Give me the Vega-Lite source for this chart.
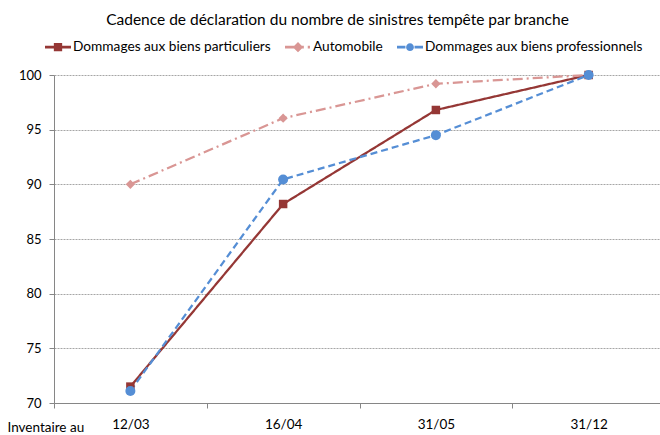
{
  "$schema": "https://vega.github.io/schema/vega-lite/v6.json",
  "autosize": {"type": "none"},
  "width": 611,
  "height": 328,
  "padding": {"left": 54, "top": 75, "right": 0, "bottom": 32},
  "background": "white",
  "config": {
    "view": {"stroke": null},
    "font": "Lato",
    "axis": {"labelFont": "Lato", "titleFont": "Lato", "labelColor": "#000", "titleColor": "#000"},
    "legend": {"labelFont": "Lato"}
  },
  "title": {
    "text": "Cadence de déclaration du nombre de sinistres tempête par branche",
    "font": "Lato", "fontSize": 15.5, "fontWeight": "normal", "color": "#000",
    "anchor": "middle", "dx": -22, "offset": 6
  },
  "data": {
    "values": [
      {"date": "12/03", "serie": "Dommages aux biens particuliers", "valeur": 71.5},
      {"date": "16/04", "serie": "Dommages aux biens particuliers", "valeur": 88.2},
      {"date": "31/05", "serie": "Dommages aux biens particuliers", "valeur": 96.8},
      {"date": "31/12", "serie": "Dommages aux biens particuliers", "valeur": 100},
      {"date": "12/03", "serie": "Automobile", "valeur": 90.0},
      {"date": "16/04", "serie": "Automobile", "valeur": 96.05},
      {"date": "31/05", "serie": "Automobile", "valeur": 99.2},
      {"date": "31/12", "serie": "Automobile", "valeur": 100},
      {"date": "12/03", "serie": "Dommages aux biens professionnels", "valeur": 71.1},
      {"date": "16/04", "serie": "Dommages aux biens professionnels", "valeur": 90.45},
      {"date": "31/05", "serie": "Dommages aux biens professionnels", "valeur": 94.5},
      {"date": "31/12", "serie": "Dommages aux biens professionnels", "valeur": 100}
    ]
  },
  "encoding": {
    "x": {
      "field": "date", "type": "ordinal", "sort": null,
      "scale": {"type": "band", "paddingInner": 0, "paddingOuter": 0},
      "axis": {
        "title": "Inventaire au", "titleFontSize": 13.5, "titleFontWeight": "normal",
        "titleAlign": "left", "titleAnchor": "start", "titleX": -47, "titleY": 28, "titleBaseline": "alphabetic",
        "labelAngle": 0, "labelFontSize": 13.5, "labelPadding": 9,
        "tickBand": "extent", "tickSize": 5, "tickColor": "#868686",
        "domainColor": "#868686", "grid": false
      }
    },
    "y": {
      "field": "valeur", "type": "quantitative",
      "scale": {"domain": [70, 100], "nice": false, "zero": false},
      "axis": {
        "title": null, "values": [70, 75, 80, 85, 90, 95, 100],
        "labelFontSize": 13, "labelPadding": 8, "tickSize": 5, "tickColor": "#868686",
        "domainColor": "#868686",
        "gridColor": "#a6a6a6", "gridDash": [2, 1], "gridWidth": 1
      }
    }
  },
  "layer": [
    {
      "mark": {"type": "line", "strokeWidth": 2.25},
      "encoding": {
        "color": {
          "field": "serie", "type": "nominal", "legend": null,
          "scale": {
            "domain": ["Dommages aux biens particuliers", "Automobile", "Dommages aux biens professionnels"],
            "range": ["#953735", "#D99694", "#558ED5"]
          }
        },
        "strokeDash": {
          "field": "serie", "type": "nominal", "legend": null,
          "scale": {
            "domain": ["Dommages aux biens particuliers", "Automobile", "Dommages aux biens professionnels"],
            "range": [[1, 0], [10, 4, 2, 4], [7, 4]]
          }
        }
      }
    },
    {
      "mark": {"type": "point", "filled": true, "opacity": 1},
      "encoding": {
        "color": {
          "field": "serie", "type": "nominal", "legend": null,
          "scale": {
            "domain": ["Dommages aux biens particuliers", "Automobile", "Dommages aux biens professionnels"],
            "range": ["#953735", "#D99694", "#558ED5"]
          }
        },
        "shape": {
          "field": "serie", "type": "nominal", "legend": null,
          "scale": {
            "domain": ["Dommages aux biens particuliers", "Automobile", "Dommages aux biens professionnels"],
            "range": ["square", "diamond", "circle"]
          }
        },
        "size": {
          "field": "serie", "type": "nominal", "legend": null,
          "scale": {
            "domain": ["Dommages aux biens particuliers", "Automobile", "Dommages aux biens professionnels"],
            "range": [72, 100, 50]
          }
        }
      }
    },
    {
      "mark": {"type": "point", "filled": true, "opacity": 0, "size": 10},
      "encoding": {
        "color": {
          "field": "serie", "type": "nominal",
          "scale": {
            "domain": ["Dommages aux biens particuliers", "Automobile", "Dommages aux biens professionnels"],
            "range": ["#953735", "#D99694", "#558ED5"]
          },
          "legend": {
            "title": null, "orient": "none", "direction": "horizontal",
            "legendX": -9, "legendY": -41,
            "symbolSize": 676, "symbolOpacity": 1, "symbolStrokeWidth": 0,
            "labelFontSize": 13.7, "labelFontWeight": "normal", "labelOffset": 2, "columnPadding": 14,
            "labelColor": "#000", "labelLimit": 400
          }
        },
        "shape": {
          "field": "serie", "type": "nominal",
          "scale": {
            "domain": ["Dommages aux biens particuliers", "Automobile", "Dommages aux biens professionnels"],
            "range": [
              "M-1,-0.1H1V0.1H-1Z M-0.32,-0.32H0.32V0.32H-0.32Z",
              "M-1,-0.1H0.45V0.1H-1Z M-0.4,0L0,-0.4L0.4,0L0,0.4Z M0.75,-0.1H0.92V0.1H0.75Z",
              "M-1,-0.1H-0.35V0.1H-1Z M0.35,-0.1H1V0.1H0.35Z M-0.3,0A0.3,0.3 0 1,0 0.3,0A0.3,0.3 0 1,0 -0.3,0Z"
            ]
          },
          "legend": {
            "title": null, "orient": "none", "direction": "horizontal",
            "legendX": -9, "legendY": -41,
            "symbolSize": 676, "symbolOpacity": 1, "symbolStrokeWidth": 0,
            "labelFontSize": 13.7, "labelFontWeight": "normal", "labelOffset": 2, "columnPadding": 14,
            "labelColor": "#000", "labelLimit": 400
          }
        }
      }
    }
  ],
  "resolve": {"scale": {"shape": "independent", "strokeDash": "independent", "color": "independent", "size": "independent"}}
}
